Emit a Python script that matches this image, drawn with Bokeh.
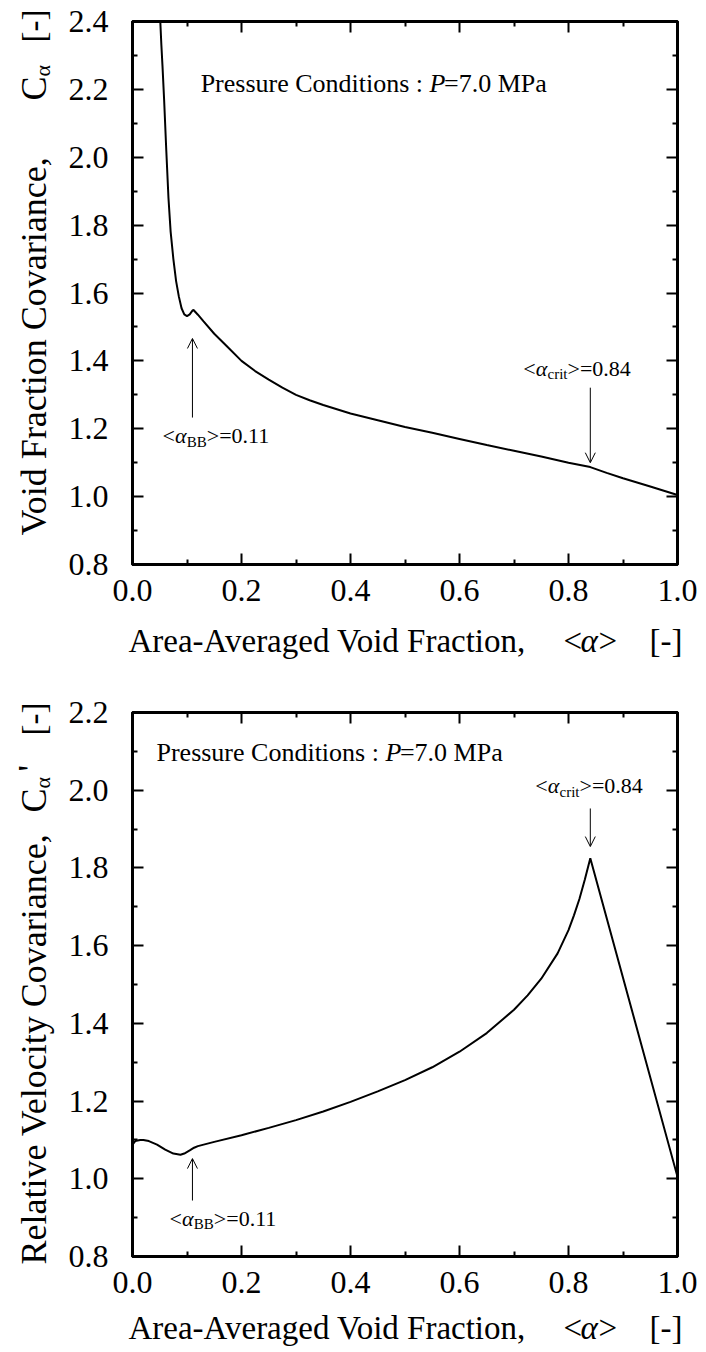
from math import pi
from bokeh.plotting import figure
from bokeh.models import (Label, Arrow, OpenHead, LinearAxis, FixedTicker, Range1d,
                          PrintfTickFormatter, CustomJSTickFormatter)
from bokeh.layouts import column, row
from bokeh.embed import file_html
from bokeh.resources import INLINE

# ---------------- data ----------------
cov_x = [0.051, 0.053, 0.055, 0.058, 0.062, 0.066, 0.070, 0.075, 0.080, 0.085, 0.090,
         0.095, 0.100, 0.105, 0.110, 0.112, 0.120, 0.130, 0.150, 0.175, 0.200, 0.225,
         0.250, 0.275, 0.300, 0.325, 0.350, 0.400, 0.450, 0.500, 0.550, 0.600, 0.650,
         0.700, 0.750, 0.800, 0.840, 0.870, 0.900, 0.950, 1.000]
cov_y = [2.40, 2.33, 2.27, 2.17, 2.02, 1.88, 1.78, 1.70, 1.635, 1.59, 1.555,
         1.537, 1.532, 1.537, 1.548, 1.550, 1.536, 1.517, 1.480, 1.440, 1.400, 1.370,
         1.345, 1.321, 1.300, 1.284, 1.270, 1.245, 1.225, 1.205, 1.188, 1.170, 1.152,
         1.135, 1.118, 1.100, 1.087, 1.070, 1.054, 1.030, 1.005]

rel_x = [0.000, 0.005, 0.014, 0.020, 0.030, 0.045, 0.060, 0.075, 0.088, 0.095, 0.105,
         0.113, 0.120, 0.150, 0.200, 0.250, 0.300, 0.350, 0.400, 0.450, 0.500, 0.550,
         0.600, 0.650, 0.700, 0.725, 0.750, 0.780, 0.800, 0.810, 0.820, 0.830, 0.840,
         1.000]
rel_y = [1.088, 1.097, 1.100, 1.100, 1.097, 1.088, 1.075, 1.065, 1.062, 1.065, 1.073,
         1.080, 1.084, 1.095, 1.112, 1.131, 1.151, 1.173, 1.198, 1.225, 1.254, 1.287,
         1.327, 1.375, 1.435, 1.472, 1.515, 1.580, 1.640, 1.678, 1.720, 1.770, 1.825,
         1.005]

x_ticks = [0.0, 0.2, 0.4, 0.6, 0.8, 1.0]
x_tick_labels = ["0.0", "0.2", "0.4", "0.6", "0.8", "1.0"]
top_y_ticks = [0.8, 1.0, 1.2, 1.4, 1.6, 1.8, 2.0, 2.2, 2.4]
top_y_tick_labels = ["0.8", "1.0", "1.2", "1.4", "1.6", "1.8", "2.0", "2.2", "2.4"]
bot_y_ticks = [0.8, 1.0, 1.2, 1.4, 1.6, 1.8, 2.0, 2.2]
bot_y_tick_labels = ["0.8", "1.0", "1.2", "1.4", "1.6", "1.8", "2.0", "2.2"]

alpha_bb = 0.11
alpha_crit = 0.84
pressure_text = "=7.0 MPa"

FONT = "Liberation Serif"

# Times / Liberation Serif advance widths (per 1000 em)
W = {' ': 250, '-': 333, ',': 250, '.': 250, ':': 278, '<': 564, '=': 564, '>': 564,
     '[': 333, ']': 333, "'": 180, 'α': 540,
     'A': 722, 'B': 667, 'C': 667, 'F': 556, 'M': 889, 'P': 556, 'R': 667, 'V': 722,
     'a': 444, 'c': 444, 'd': 500, 'e': 444, 'g': 500, 'i': 278, 'l': 278, 'n': 500,
     'o': 500, 'r': 333, 's': 389, 't': 278, 'u': 500, 'v': 500, 'y': 500}


def tw(s, size):
    return sum(W.get(c, 500) for c in s) * size / 1000.0


def lab(p, text, x, y, size, style="normal", xo=0.0, yo=0.0, angle=0.0,
        align="left", baseline="middle"):
    p.add_layout(Label(x=x, y=y, text=text, x_offset=xo, y_offset=yo,
                       angle=angle, text_font=FONT, text_font_size=f"{size}px",
                       text_font_style=style, text_align=align, text_baseline=baseline,
                       text_color="black"))


def run(p, x, y, segs):
    off = 0.0
    for text, size, style, shift in segs:
        if text.strip():
            lab(p, text, x, y, size, style, xo=off, yo=shift)
        off += tw(text, size)


# layout (page pixels)
YLAB_W = 64
FRAME_L = 132
FRAME_W = 545
BORDER_R = 21
CHART_W = FRAME_L - YLAB_W + FRAME_W + BORDER_R


def make_fig(yr, yticks, ylabels, fh, bt, bb):
    p = figure(frame_width=FRAME_W, frame_height=fh, x_range=Range1d(0, 1), y_range=Range1d(*yr),
               min_border_left=FRAME_L - YLAB_W, min_border_right=BORDER_R,
               min_border_top=bt, min_border_bottom=bb, frame_align=False,
               output_backend="svg", toolbar_location=None)
    p.xgrid.visible = False
    p.ygrid.visible = False
    p.outline_line_color = "black"
    p.outline_line_width = 3
    p.background_fill_color = "white"
    p.border_fill_color = "white"
    p.add_layout(LinearAxis(), "right")
    p.add_layout(LinearAxis(), "above")
    xminor = [round((a + b) / 2, 3) for a, b in zip(x_ticks[:-1], x_ticks[1:])]
    yminor = [round((a + b) / 2, 3) for a, b in zip(yticks[:-1], yticks[1:])]
    for ax in p.xaxis + p.yaxis:
        is_x = ax in p.xaxis
        ax.ticker = FixedTicker(ticks=x_ticks if is_x else yticks,
                                minor_ticks=xminor if is_x else yminor)
        ax.major_tick_in = 11
        ax.major_tick_out = 0
        ax.minor_tick_in = 5
        ax.minor_tick_out = 0
        ax.major_tick_line_width = 2
        ax.minor_tick_line_width = 2
        ax.major_tick_line_color = "black"
        ax.minor_tick_line_color = "black"
        ax.axis_line_width = 3
        ax.axis_line_color = "black"
        ax.major_label_text_font = FONT
        ax.major_label_text_font_size = "32px"
        ax.major_label_text_color = "black"
    p.below[0].formatter = PrintfTickFormatter(format="%.1f")
    p.below[0].major_label_overrides = dict(zip(x_ticks, x_tick_labels))
    p.below[0].major_label_standoff = 15
    p.left[0].formatter = PrintfTickFormatter(format="%.1f")
    p.left[0].major_label_overrides = dict(zip(yticks, ylabels))
    p.left[0].major_label_standoff = 24
    for ax in (p.right[0], p.above[0]):
        ax.formatter = CustomJSTickFormatter(code="return ''")
        ax.major_label_standoff = 0
    return p


def text_fig(w, h):
    f = figure(width=w, height=h, x_range=Range1d(0, w), y_range=Range1d(0, h), min_border=0,
               x_axis_type=None, y_axis_type=None, frame_align=False,
               output_backend="svg", toolbar_location=None)
    f.outline_line_color = None
    f.background_fill_color = "white"
    f.border_fill_color = "white"
    return f


def xlabel_fig(h, center_from_top):
    f = text_fig(CHART_W, h)
    y = h - center_from_top
    x0 = 128 - YLAB_W
    size = 33
    lab(f, "Area-Averaged Void Fraction,", x0, y, size)
    lab(f, "<", x0 + 435, y, size)
    lab(f, "α", x0 + 452, y, size, style="italic")
    lab(f, ">", x0 + 470, y, size)
    lab(f, "[-]", x0 + 521, y, size)
    return f


def ylabel_fig(h, pieces):
    """pieces: (text, size, style, page_y_of_start, x_center) in figure-local page pixels"""
    f = text_fig(YLAB_W, h)
    for text, size, style, ystart, xc in pieces:
        lab(f, text, xc, h - ystart, size, style, angle=pi / 2)
    return f


# ---------------- top: void fraction covariance ----------------
TOP_H = 612
p1 = make_fig((0.8, 2.4), top_y_ticks, top_y_tick_labels, 543, 21, TOP_H - 21 - 543)
p1.line(cov_x, cov_y, line_width=2, line_color="black")

run(p1, 0.125, 2.217, [("Pressure Conditions : ", 26, "normal", 0), ("P", 26, "italic", 0),
                      (pressure_text, 26, "normal", 0)])
p1.add_layout(Arrow(end=OpenHead(size=10, line_width=1, line_color="black"),
                    x_start=alpha_bb, y_start=1.233, x_end=alpha_bb, y_end=1.466,
                    line_width=1, line_color="black"))
run(p1, 0.055, 1.18, [("<", 22, "normal", 0), ("α", 22, "italic", 0), ("BB", 15, "normal", -6),
                     (f">={alpha_bb:.2f}", 22, "normal", 0)])
p1.add_layout(Arrow(end=OpenHead(size=10, line_width=1, line_color="black"),
                    x_start=alpha_crit, y_start=1.321, x_end=alpha_crit, y_end=1.10,
                    line_width=1, line_color="black"))
run(p1, 0.717, 1.378, [("<", 22, "normal", 0), ("α", 22, "italic", 0), ("crit", 15, "normal", -6),
                      (f">={alpha_crit:.2f}", 22, "normal", 0)])
x1 = xlabel_fig(60, 28)
y1 = ylabel_fig(TOP_H + 60, [("Void Fraction Covariance,", 36, "normal", 535, 33),
                             ("C", 36, "normal", 100, 33),
                             ("α", 22, "normal", 76, 42),
                             ("[-]", 33, "normal", 42, 33)])

# ---------------- bottom: relative velocity covariance ----------------
BOT_TOP = 672
BOT_H = 632
p2 = make_fig((0.8, 2.2), bot_y_ticks, bot_y_tick_labels, 544, 712 - BOT_TOP, BOT_H - 40 - 544)
p2.line(rel_x, rel_y, line_width=2, line_color="black")

run(p2, 0.044, 2.097, [("Pressure Conditions : ", 26, "normal", 0), ("P", 26, "italic", 0),
                      (pressure_text, 26, "normal", 0)])
p2.add_layout(Arrow(end=OpenHead(size=10, line_width=1, line_color="black"),
                    x_start=alpha_bb, y_start=0.944, x_end=alpha_bb, y_end=1.052,
                    line_width=1, line_color="black"))
run(p2, 0.068, 0.898, [("<", 22, "normal", 0), ("α", 22, "italic", 0), ("BB", 15, "normal", -6),
                      (f">={alpha_bb:.2f}", 22, "normal", 0)])
p2.add_layout(Arrow(end=OpenHead(size=10, line_width=1, line_color="black"),
                    x_start=alpha_crit, y_start=1.953, x_end=alpha_crit, y_end=1.855,
                    line_width=1, line_color="black"))
run(p2, 0.739, 2.012, [("<", 22, "normal", 0), ("α", 22, "italic", 0), ("crit", 15, "normal", -6),
                      (f">={alpha_crit:.2f}", 22, "normal", 0)])
x2 = xlabel_fig(46, 23)
y2 = ylabel_fig(BOT_H + 46, [("Relative Velocity Covariance,", 36, "normal", 1264 - BOT_TOP, 33),
                             ("C", 36, "normal", 812 - BOT_TOP, 33),
                             ("α", 22, "normal", 788 - BOT_TOP, 42),
                             ("'", 36, "normal", 771 - BOT_TOP, 30),
                             ("[-]", 33, "normal", 735 - BOT_TOP, 33)])

layout = column(row(y1, column(p1, x1)), row(y2, column(p2, x2)))
open("out.html", "w").write(file_html(layout, INLINE))
